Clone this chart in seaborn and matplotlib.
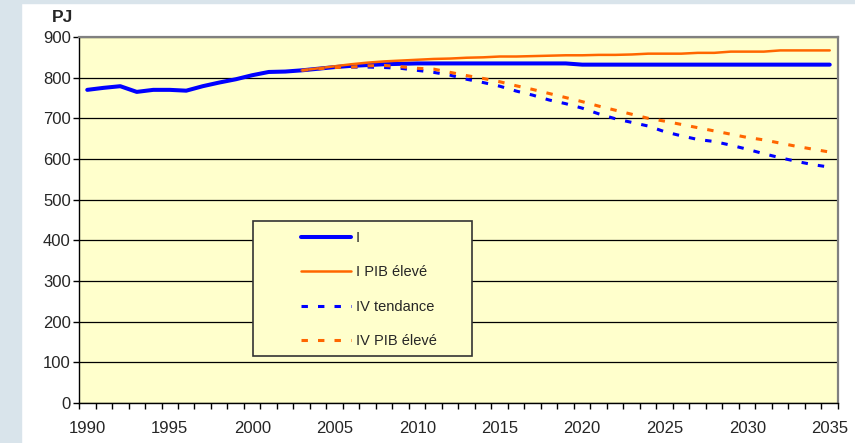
import numpy as np
import pandas as pd
import seaborn as sns
import matplotlib.pyplot as plt
from matplotlib.patches import Rectangle

# data (PJ)
years_hist = list(range(1990, 2036))
i_values = [770, 775, 779, 765, 770, 770, 768, 779, 788, 796,
            806, 814, 815, 818, 822, 826, 829, 831, 833, 834,
            835, 835, 835, 835, 835, 835, 835, 835, 835, 835,
            832, 832, 832, 832, 832, 832, 832, 832, 832, 832,
            832, 832, 832, 832, 832, 832]

years_proj = list(range(2003, 2036))
i_pib = [818, 823, 828, 833, 837, 840, 842, 844, 846, 847,
         849, 850, 852, 852, 853, 854, 855, 855, 856, 856,
         857, 859, 859, 859, 861, 861, 864, 864, 864, 867,
         867, 867, 867]
iv_tendance = [818, 822, 825, 826, 826, 825, 823, 818, 813, 806,
               796, 788, 779, 767, 757, 745, 736, 725, 711, 699,
               690, 681, 667, 657, 648, 643, 634, 624, 613, 603,
               594, 586, 580]
iv_pib = [818, 822, 825, 826, 829, 830, 827, 823, 821, 813,
          805, 798, 790, 780, 771, 761, 751, 741, 730, 720,
          710, 700, 693, 685, 677, 669, 661, 653, 647, 639,
          631, 624, 617]

labels = ['I', 'I PIB élevé', 'IV tendance', 'IV PIB élevé']
blue = '#0000FF'
orange = '#FF6600'
dash = (0, (2.1, 3.3))

sns.set_style("white")
plt.rcParams['font.family'] = ['Liberation Sans', 'DejaVu Sans']

fig = plt.figure(figsize=(8.55, 4.43), dpi=100)
ax = fig.add_axes([0.0924, 0.0903, 0.8877, 0.8262])
ax.set_facecolor('#FFFFCC')

# the four scenarios
sns.lineplot(x=years_hist, y=i_values, color=blue, linewidth=2.9, label=labels[0], ax=ax, zorder=3)
sns.lineplot(x=years_proj, y=i_pib, color=orange, linewidth=1.8, label=labels[1], ax=ax, zorder=4)
sns.lineplot(x=years_proj, y=iv_tendance, color=blue, linewidth=2.2, linestyle=dash, label=labels[2], ax=ax, zorder=5)
sns.lineplot(x=years_proj, y=iv_pib, color=orange, linewidth=2.2, linestyle=dash, label=labels[3], ax=ax, zorder=6)

# axes
ax.set_xlim(1989.5, 2035.5)
ax.set_ylim(0, 900)
ax.set_xticks(range(1990, 2036, 5))
ax.set_xticks(np.arange(1989.5, 2036, 1), minor=True)
ax.set_yticks(range(0, 901, 100))
ax.set_xlabel('')
ax.set_ylabel('')
ax.tick_params(axis='x', which='major', bottom=True, length=0, pad=13, labelsize=12)
ax.tick_params(axis='x', which='minor', bottom=True, length=4, width=1, direction='out', color='black')
ax.tick_params(axis='y', left=True, length=4, width=1, direction='out', color='black', pad=2, labelsize=12)

ax.set_axisbelow(True)
ax.yaxis.grid(True, color='black', linewidth=0.9)
ax.xaxis.grid(False)

for side in ['left', 'bottom']:
    ax.spines[side].set_color('black')
    ax.spines[side].set_linewidth(1)
for side in ['top', 'right']:
    ax.spines[side].set_color('#808080')
    ax.spines[side].set_linewidth(1.6)

# legend with a wider box drawn behind it
ax.add_patch(Rectangle((0.2289, 0.129), 0.2889, 0.369, transform=ax.transAxes,
                       facecolor='#FFFFCC', edgecolor='#333333', linewidth=1.2, zorder=7))
leg = ax.legend(loc='upper left', bbox_to_anchor=(0.2925, 0.470), frameon=False,
                fontsize=10.5, handlelength=3.4, handletextpad=0.35, labelspacing=1.4,
                borderpad=0, borderaxespad=0)
leg.set_zorder(8)

fig.text(62 / 855, 1 - 17 / 443, 'PJ', fontweight='bold', fontsize=12.5, ha='center', va='center')

# light blue frame strips of the original slide
fig.patches.append(Rectangle((0, 0), 21 / 855, 1, transform=fig.transFigure, color='#d9e4eb', zorder=-1))
fig.patches.append(Rectangle((0, 1 - 3 / 443), 1, 3 / 443, transform=fig.transFigure, color='#d9e4eb', zorder=-1))

fig.savefig('out.png', dpi=100)
